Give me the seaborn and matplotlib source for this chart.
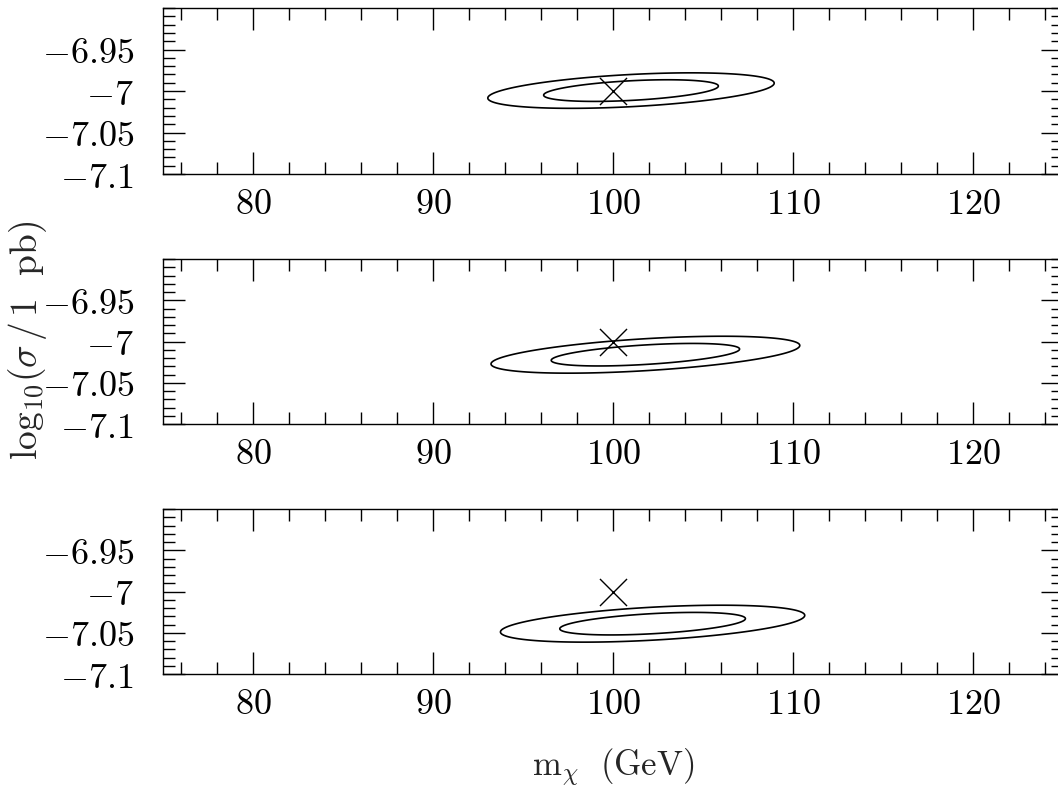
import numpy as np
import pandas as pd
import matplotlib
matplotlib.use("Agg")
import matplotlib.pyplot as plt
import seaborn as sns
from matplotlib.ticker import FixedLocator, MultipleLocator, FuncFormatter

# ---- data ----
center_mass = [101.0, 101.8, 102.2]          # GeV, best-fit centre of each panel
center_logsig = [-6.9995, -7.016, -7.039]    # log10(sigma / 1 pb)
err_mass = [3.2, 3.45, 3.4]                  # 1-sigma width in mass
err_logsig = [0.0086, 0.0090, 0.0090]        # 1-sigma width in log sigma
corr = [0.42, 0.50, 0.45]                    # correlation coefficient
delta_chi2_levels = [2.30, 6.18]             # 68% and 95% contours
true_mass = [100.0, 100.0, 100.0]
true_logsig = [-7.0, -7.0, -7.0]

x_major = [80, 90, 100, 110, 120]
y_major = [-7.1, -7.05, -7.0, -6.95]
x_lim = (75, 125)
y_lim = (-7.1, -6.9)

# ---- style ----
sns.set_style("ticks")
plt.rcParams["mathtext.fontset"] = "cm"
plt.rcParams["font.family"] = ["DejaVu Serif"]

W, H = 1058, 789
fig = plt.figure(figsize=(W / 100, H / 100), dpi=100)

panels_px = [(8, 174), (259, 424), (509, 674)]
left_px, right_px = 163, 1063

def fmt(v, pos):
    return "$" + f"{v:g}" + "$"

for i, (top, bot) in enumerate(panels_px):
    ax = fig.add_axes([left_px / W, 1 - bot / H, (right_px - left_px) / W, (bot - top) / H])
    # chi-square surface from the 2D Gaussian
    m = np.linspace(80, 122, 700)
    s = np.linspace(-7.1, -6.9, 500)
    M, S = np.meshgrid(m, s)
    dx = (M - center_mass[i]) / err_mass[i]
    dy = (S - center_logsig[i]) / err_logsig[i]
    r = corr[i]
    chi2 = (dx**2 - 2 * r * dx * dy + dy**2) / (1 - r**2)
    ax.contour(M, S, chi2, levels=delta_chi2_levels, colors="black", linewidths=1.2)

    df = pd.DataFrame({"m": [true_mass[i]], "s": [true_logsig[i]]})
    sns.scatterplot(data=df, x="m", y="s", marker="x", s=380, color="black",
                    linewidth=1.0, ax=ax, legend=False, zorder=5)

    ax.set_xlim(*x_lim)
    ax.set_ylim(*y_lim)
    ax.set_xlabel("")
    ax.set_ylabel("")
    ax.xaxis.set_major_locator(FixedLocator(x_major))
    ax.xaxis.set_minor_locator(MultipleLocator(2))
    ax.yaxis.set_major_locator(FixedLocator(y_major))
    ax.yaxis.set_minor_locator(MultipleLocator(0.01))
    ax.xaxis.set_major_formatter(FuncFormatter(fmt))
    ax.yaxis.set_major_formatter(FuncFormatter(fmt))
    ax.tick_params(which="both", direction="in", top=True, right=True,
                   width=1.0, colors="black", labelsize=26)
    ax.tick_params(which="major", length=16)
    ax.tick_params(which="minor", length=8.5)
    ax.tick_params(axis="x", which="major", pad=9)
    ax.tick_params(axis="y", which="major", pad=21)
    for sp in ax.spines.values():
        sp.set_linewidth(1.0)
        sp.set_color("black")
        sp.set_visible(True)

fig.text(28 / W, 1 - 340 / H, r"$\mathrm{log}_{10}(\sigma\,/\,1\ \ \mathrm{pb})$",
         rotation=90, ha="center", va="center", fontsize=27)
fig.text(613 / W, 1 - 768 / H, r"$\mathrm{m}_{\chi}\ \ \mathrm{(GeV)}$",
         ha="center", va="center", fontsize=25)

fig.savefig("out.png", dpi=100)
